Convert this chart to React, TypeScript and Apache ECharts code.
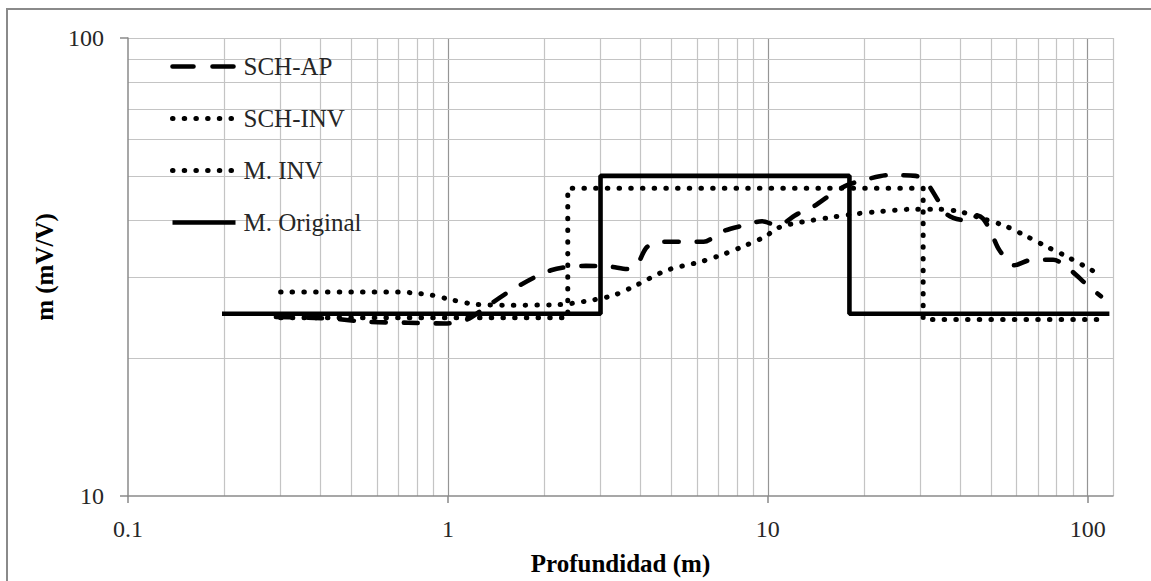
import React, { useEffect, useRef } from 'react';
import * as echarts from 'echarts';

// ---- Data ----
const schAp: [number, number][] = [
  [0.29, 24.6], [0.43, 24.4], [0.56, 24.0], [0.75, 23.9], [0.98, 23.8], [1.15, 24.3],
  [1.3, 25.7], [1.6, 28.3], [2.1, 31.1], [2.7, 31.8], [3.2, 31.7], [3.65, 31.3],
  [3.9, 32.0], [4.2, 35.0], [4.7, 35.9], [5.5, 35.9], [6.3, 35.9], [7.2, 37.8],
  [8.3, 38.9], [9.6, 39.8], [10.7, 39.0], [12.4, 41.3], [14, 43.0], [15.8, 45.6],
  [17.7, 47.7], [20.5, 49.2], [24, 50.2], [29, 50.0], [31.3, 48.4], [34, 44.3],
  [36.5, 41.1], [41.3, 40.0], [44, 41.1], [47, 40.4], [50, 37.5], [53, 34.4],
  [59, 31.9], [67, 32.8], [78, 32.8], [88, 31.2], [99, 29.0], [110, 27.3],
];

const schInv: [number, number][] = [
  [0.3, 27.9], [0.5, 27.9], [0.7, 27.9], [0.8, 27.7], [0.88, 27.5], [1.03, 26.8],
  [1.23, 26.2], [1.58, 26.1], [2.18, 26.15], [2.85, 26.8], [3.33, 27.5], [3.9, 28.9],
  [4.83, 31.1], [6.2, 32.5], [7.25, 33.7], [8.4, 35.1], [9.85, 36.9], [10.6, 38.3],
  [11.4, 39.0], [12.4, 39.5], [13.5, 39.9], [15.8, 40.6], [18.8, 41.3], [22.4, 41.8],
  [28.8, 42.3], [33.6, 42.3], [39.7, 41.8], [46.5, 40.4], [55.1, 38.9], [64.4, 36.9],
  [74.6, 35.0], [86.2, 33.3], [100.7, 31.4], [108.4, 30.5],
];

const mInv: [number, number][] = [
  [0.3, 24.5], [2.37, 24.5], [2.37, 47.0], [30.6, 47.0], [30.6, 24.3], [108, 24.3],
];

const mOriginal: [number, number][] = [
  [0.2, 25], [3, 25], [3, 50], [18, 50], [18, 25], [115, 25],
];

const seriesNames = ['SCH-AP', 'SCH-INV', 'M. INV', 'M. Original'];
const xTickValues = [0.1, 1, 10, 100];
const xMinorGrid = [0.2, 0.3, 0.4, 0.5, 0.6, 0.7, 0.8, 0.9, 2, 3, 4, 5, 6, 7, 8, 9, 20, 30, 40, 50, 60, 70, 80, 90];
const xMajorGrid = [1, 10, 100];
const yMinorGrid = [20, 30, 40, 50, 60, 70, 80, 90];
const xMin = 0.1;
const xMax = 120;
const yMin = 10;
const yMax = 100;

const FONT = '"Liberation Serif", "Times New Roman", serif';
const MINOR = '#c4c4c4';
const MAJOR = '#959595';

export default function App() {
  const ref = useRef<HTMLDivElement>(null);

  useEffect(() => {
    if (!ref.current) return;
    const chart = echarts.init(ref.current, undefined, { renderer: 'svg' });

    const dashedStyle = { color: '#000', width: 4.6, type: [14, 18], cap: 'round' as const };
    const dotted = { color: '#000', width: 5, type: [0.5, 11.2], cap: 'round' as const };
    const solidStyle = { color: '#000', width: 4.6, type: 'solid' as const, cap: 'square' as const };

    const gridData: any[] = [
      ...xMinorGrid.map((v) => ({ xAxis: v, lineStyle: { color: MINOR } })),
      ...xMajorGrid.map((v) => ({ xAxis: v, lineStyle: { color: MAJOR } })),
      { xAxis: xMax, lineStyle: { color: MINOR } },
      ...yMinorGrid.map((v) => ({ yAxis: v, lineStyle: { color: MINOR } })),
      { yAxis: yMax, lineStyle: { color: MINOR } },
    ];

    chart.setOption({
      animation: false,
      backgroundColor: '#fff',
      graphic: [
        {
          type: 'rect',
          shape: { x: 7, y: 9, width: 1400, height: 800 },
          style: { fill: 'none', stroke: '#8a8a8a', lineWidth: 2 },
          silent: true,
          z: -1,
        },
      ],
      grid: { left: 128, top: 38, right: 38, bottom: 85, containLabel: false },
      legend: {
        data: [
          { name: seriesNames[0], lineStyle: { width: 4.6, type: [21, 19], cap: 'round' } },
          { name: seriesNames[1], lineStyle: { width: 5, type: [0.5, 11.2], cap: 'round' } },
          { name: seriesNames[2], lineStyle: { width: 5, type: [0.5, 11.2], cap: 'round' } },
          { name: seriesNames[3], lineStyle: { width: 4.6, type: 'solid', cap: 'butt' } },
        ],
        orient: 'vertical',
        left: 165,
        top: 49,
        itemWidth: 63,
        itemHeight: 14,
        itemGap: 27,
        itemStyle: { opacity: 0 },
        lineStyle: { width: 4.6 },
        textStyle: { fontFamily: FONT, fontSize: 25, color: '#262626', padding: [0, 0, 0, 3] },
      },
      xAxis: {
        type: 'log',
        logBase: 10,
        min: xMin,
        max: xMax,
        name: 'Profundidad (m)',
        nameLocation: 'middle',
        nameGap: 55,
        nameTextStyle: { fontFamily: FONT, fontSize: 25, fontWeight: 'bold', color: '#000' },
        axisLine: { show: true, lineStyle: { color: '#8a8a8a', width: 1.5 } },
        axisTick: { show: true, length: 7, lineStyle: { color: '#8a8a8a', width: 1.5 }, customValues: xTickValues },
        axisLabel: {
          fontFamily: FONT,
          fontSize: 24,
          color: '#262626',
          margin: 21,
          customValues: xTickValues,
          formatter: (v: number) => String(v),
        },
        splitLine: { show: false },
      },
      yAxis: {
        type: 'log',
        logBase: 10,
        min: yMin,
        max: yMax,
        name: 'm (mV/V)',
        nameLocation: 'middle',
        nameGap: 68,
        nameRotate: 90,
        nameTextStyle: { fontFamily: FONT, fontSize: 25, fontWeight: 'bold', color: '#000' },
        axisLine: { show: true, lineStyle: { color: '#8a8a8a', width: 1.5 } },
        axisTick: { show: true, length: 8, lineStyle: { color: '#8a8a8a', width: 1.5 } },
        axisLabel: {
          fontFamily: FONT,
          fontSize: 24,
          color: '#262626',
          margin: 24,
          formatter: (v: number) => String(v),
        },
        splitLine: { show: false },
      },
      series: [
        {
          name: '__grid',
          type: 'line',
          data: [],
          silent: true,
          z: 0,
          markLine: {
            silent: true,
            symbol: ['none', 'none'],
            label: { show: false },
            animation: false,
            z: 0,
            lineStyle: { type: 'solid', width: 1.2, color: MINOR },
            emphasis: { disabled: true },
            data: gridData,
          },
        },
        {
          name: seriesNames[0],
          type: 'line',
          data: schAp,
          symbol: 'none',
          smooth: 0.3,
          z: 4,
          lineStyle: dashedStyle,
          itemStyle: { color: '#000' },
        },
        {
          name: seriesNames[1],
          type: 'line',
          data: schInv,
          symbol: 'none',
          smooth: 0.3,
          z: 4,
          lineStyle: dotted,
          itemStyle: { color: '#000' },
        },
        {
          name: seriesNames[2],
          type: 'line',
          data: mInv,
          symbol: 'none',
          z: 4,
          lineStyle: dotted,
          itemStyle: { color: '#000' },
        },
        {
          name: seriesNames[3],
          type: 'line',
          data: mOriginal,
          symbol: 'none',
          z: 3,
          lineStyle: solidStyle,
          itemStyle: { color: '#000' },
        },
      ],
    });

    return () => {
      chart.dispose();
    };
  }, []);

  return (
    <div
      ref={ref}
      style={{ position: 'absolute', left: 0, top: 0, width: 1151, height: 581, background: '#fff' }}
    />
  );
}
